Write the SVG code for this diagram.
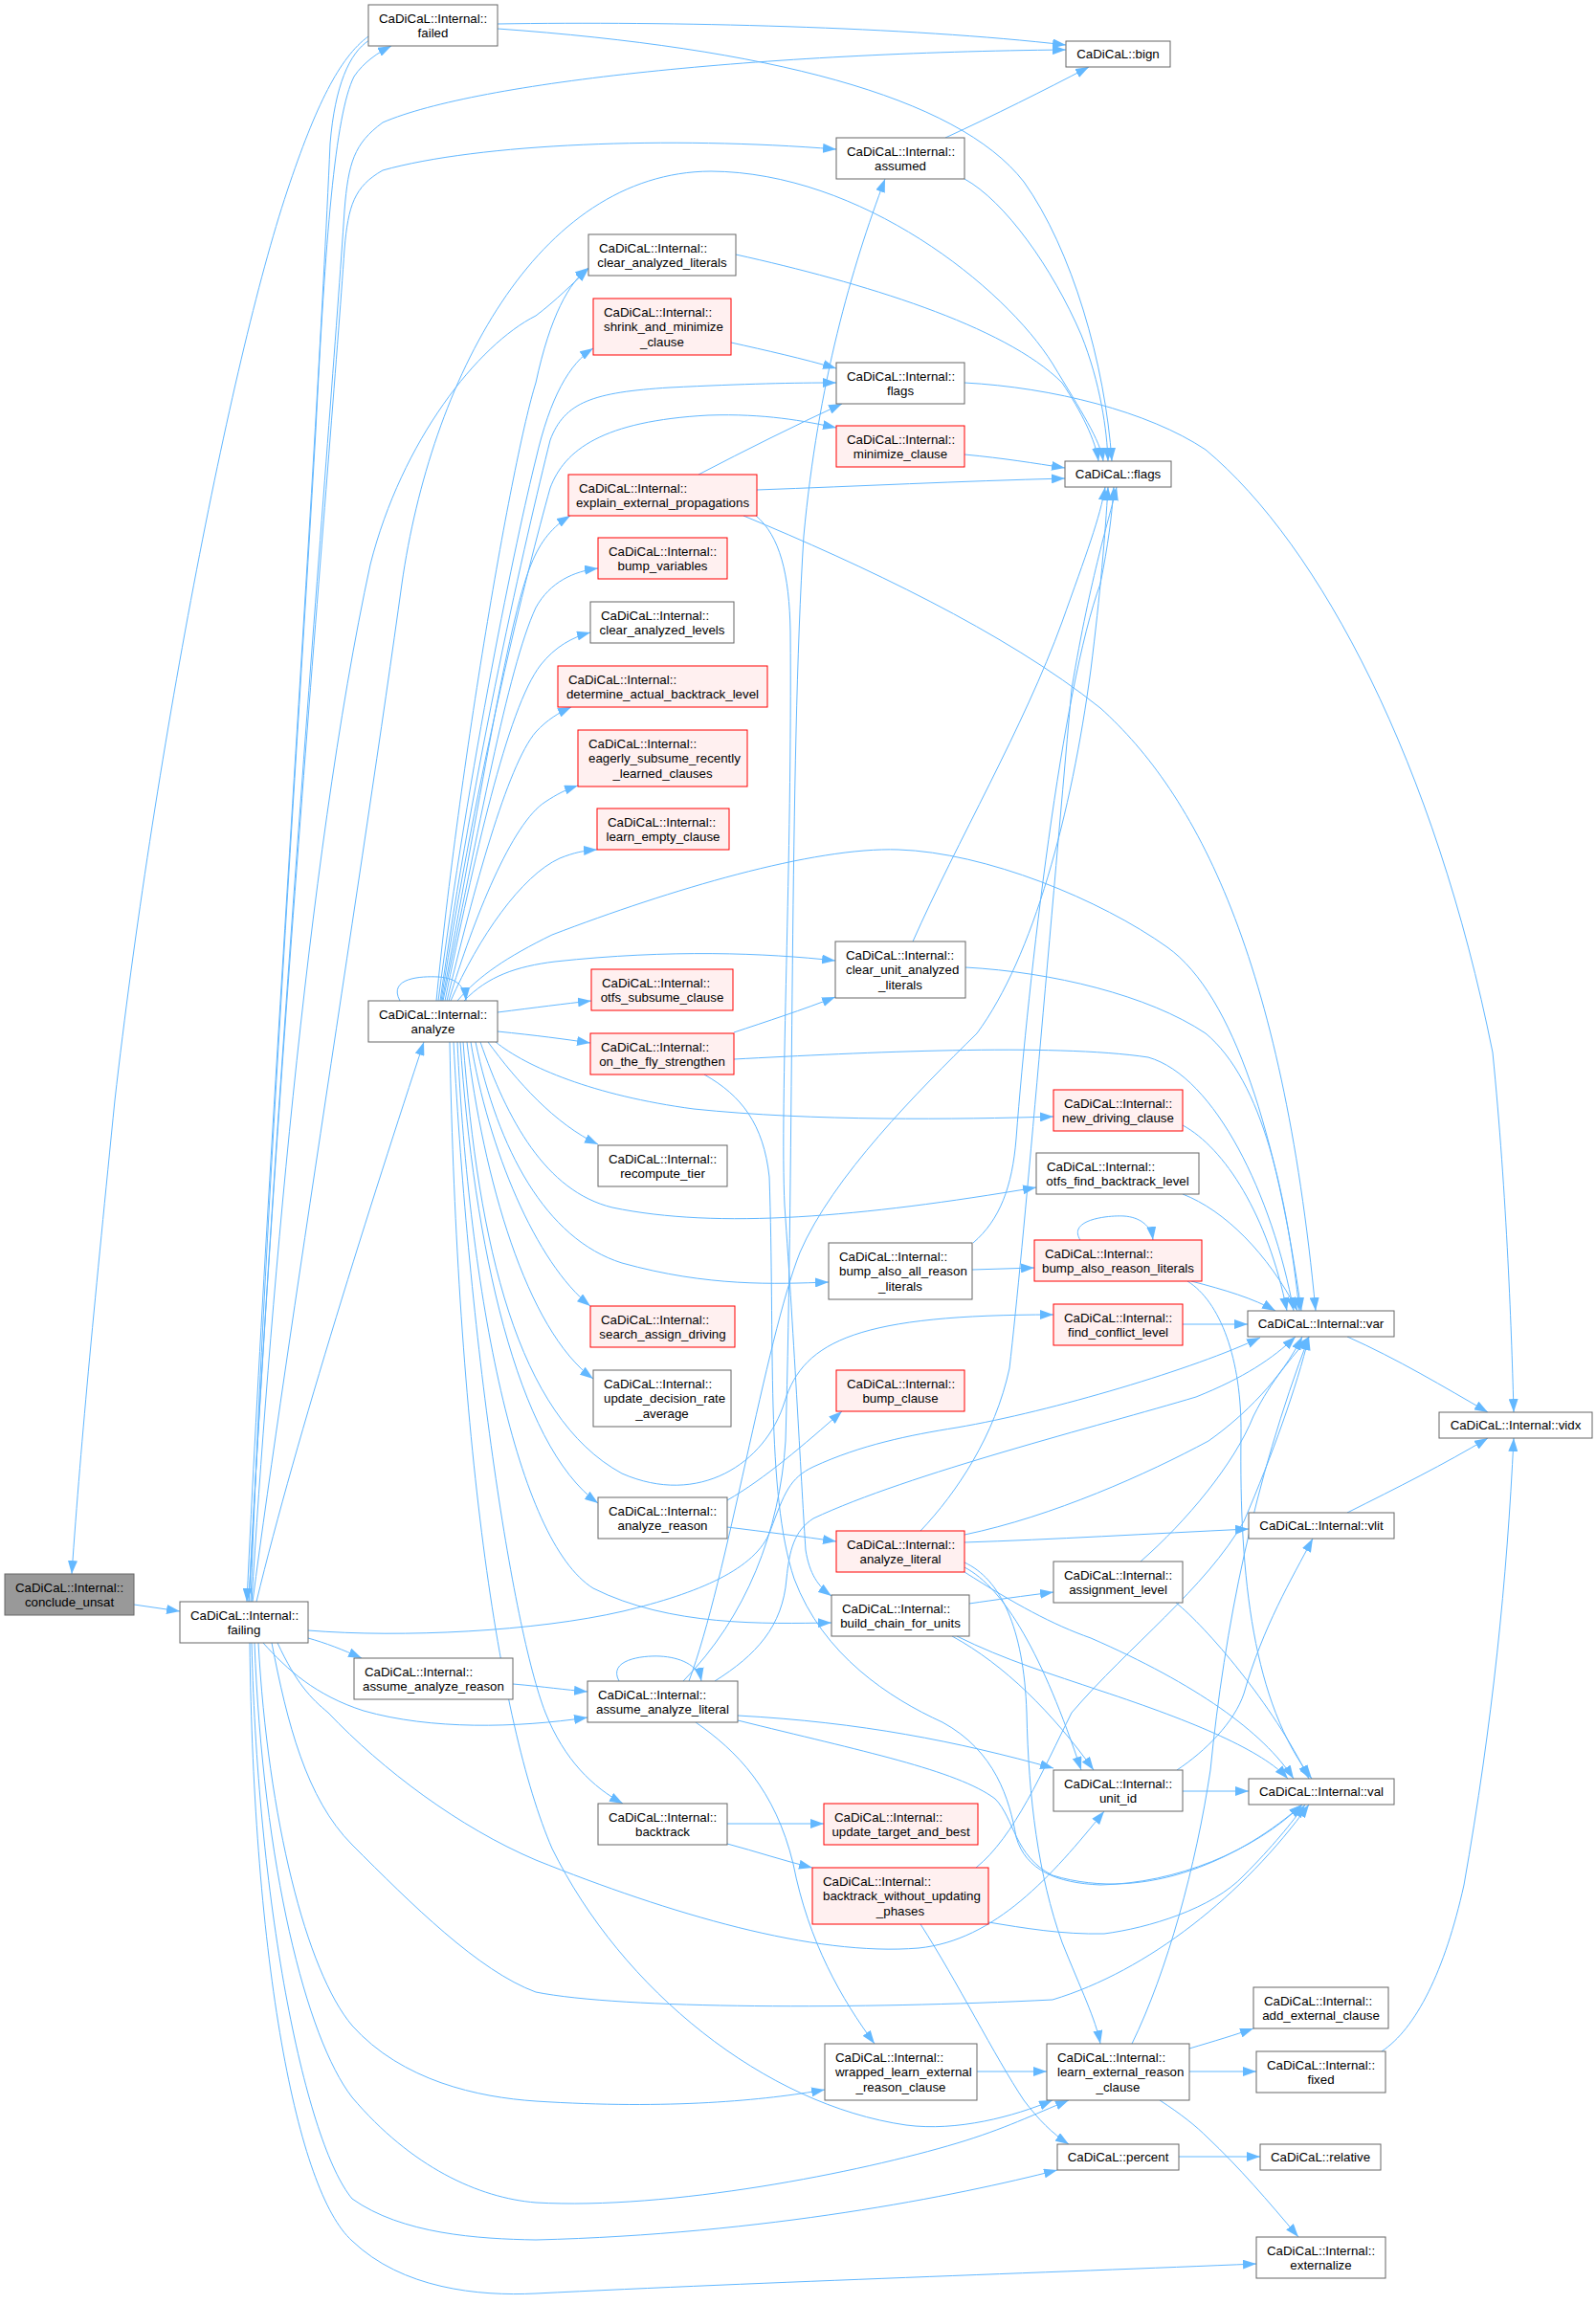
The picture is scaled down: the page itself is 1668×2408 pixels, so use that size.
<svg xmlns="http://www.w3.org/2000/svg" width="1668" height="2408" viewBox="0 0 1668 2408">
<style>
text{font-family:"Liberation Sans",Arial,Helvetica,sans-serif;font-size:13.3px;fill:#000}
.m{text-anchor:middle}
.n rect{fill:#fff;stroke:#666;stroke-width:1}
.r rect{fill:#fff0f0;stroke:#f00;stroke-width:1}
.root rect{fill:#999;stroke:#666;stroke-width:1}
#edges path{fill:none;stroke:#63b8ff;stroke-width:1;marker-end:url(#a)}
</style>
<defs>
<marker id="a" viewBox="0 0 14 10" refX="14" refY="5" markerWidth="14" markerHeight="10" markerUnits="userSpaceOnUse" orient="auto"><path d="M0,0 L14,5 L0,10 z" fill="#63b8ff"/></marker>
</defs>
<rect width="1668" height="2408" fill="#fff"/>
<g id="edges">
<path d="M140,1677 L188,1684"/>
<path d="M385,38 C355,60 330,110 300,200 C240,380 160,800 120,1150 C100,1350 85,1500 75,1645"/>
<path d="M262,1674 C275,1300 310,800 330,450 C340,250 350,120 370,80 C380,65 395,55 409,48"/>
<path d="M386,42 C365,55 350,90 345,150 C330,500 280,1200 258,1674"/>
<path d="M260,1674 C290,1100 345,450 360,220 C364,170 370,150 400,128 C500,85 800,55 1114,52"/>
<path d="M260,1674 C290,1100 345,480 360,260 C364,215 370,195 400,178 C500,150 700,142 874,156"/>
<path d="M264,1674 C300,1400 380,900 420,610 C450,400 560,180 743,179 C900,180 1050,300 1100,380 C1130,430 1150,460 1153,482"/>
<path d="M263,1674 C280,1400 320,900 387,590 C420,460 500,360 560,330 C580,315 600,295 615,281"/>
<path d="M268,1674 C310,1500 390,1250 443,1089"/>
<path d="M322,1704 C420,1712 560,1705 651,1684 C730,1665 790,1640 805,1600 C820,1560 825,1545 850,1533 C900,1510 950,1500 1000,1492 C1100,1475 1250,1430 1317,1398"/>
<path d="M322,1712 C340,1717 358,1724 378,1733"/>
<path d="M275,1717 C300,1745 330,1772 380,1788 C450,1808 540,1806 614,1795"/>
<path d="M290,1717 C310,1760 325,1775 343,1790 C400,1850 480,1910 560,1944 C700,2000 850,2045 960,2036 C1040,2028 1100,1960 1154,1893"/>
<path d="M284,1717 C300,1800 320,1880 368,1928 C430,1990 500,2060 560,2082 C650,2100 900,2100 1100,2090 C1200,2060 1300,1980 1368,1886"/>
<path d="M270,1717 C280,1900 320,2060 368,2117 C420,2175 500,2192 560,2196 C700,2205 800,2195 862,2184"/>
<path d="M266,1717 C275,1950 320,2130 368,2192 C430,2265 500,2297 560,2302 C700,2310 900,2270 1000,2240 C1050,2225 1080,2210 1117,2195"/>
<path d="M263,1717 C270,2000 320,2240 368,2298 C420,2335 500,2340 560,2341 C800,2335 1000,2295 1105,2268"/>
<path d="M261,1717 C265,2050 310,2290 368,2342 C420,2392 500,2400 560,2397 C800,2385 1100,2375 1313,2366"/>
<path d="M520,25 C700,22 950,28 1114,47"/>
<path d="M520,30 C800,50 1000,100 1070,190 C1120,260 1155,380 1162,482"/>
<path d="M988,144 C1040,120 1090,95 1138,70"/>
<path d="M1008,187 C1050,210 1100,280 1130,350 C1150,400 1157,450 1158,482"/>
<path d="M769,266 C900,295 1050,340 1110,400 C1130,430 1145,460 1148,482"/>
<path d="M764,358 C800,366 840,375 874,385"/>
<path d="M1008,475 C1050,479 1080,484 1113,489"/>
<path d="M791,512 C900,508 1000,503 1113,500"/>
<path d="M730,496 C780,470 830,445 880,422"/>
<path d="M777,539 C900,590 1050,660 1150,740 C1250,830 1340,1000 1375,1370"/>
<path d="M790,539 C815,560 825,600 826,660 C828,900 815,1150 820,1260 C830,1400 838,1560 842,1620 C846,1645 855,1658 869,1668"/>
<path d="M456,1046 C480,800 535,480 560,400 C575,330 595,295 615,280"/>
<path d="M458,1046 C490,800 540,560 560,480 C575,415 595,380 620,364"/>
<path d="M460,1046 C495,800 550,560 575,460 C590,420 620,410 700,405 C780,401 830,400 874,400"/>
<path d="M461,1046 C500,800 550,600 575,510 C590,470 630,440 740,434 C800,432 840,440 874,447"/>
<path d="M462,1046 C500,850 530,650 555,590 C565,565 578,550 596,539"/>
<path d="M463,1046 C500,870 530,700 560,635 C575,608 600,597 625,594"/>
<path d="M465,1046 C495,900 530,740 565,695 C580,676 598,666 617,661"/>
<path d="M467,1046 C495,930 530,800 560,765 C572,752 584,745 597,739"/>
<path d="M469,1046 C495,960 535,860 570,838 C582,830 592,825 604,821"/>
<path d="M471,1046 C500,980 545,915 585,897 C600,891 610,889 624,888"/>
<path d="M478,1046 C500,1020 530,1000 577,977 C700,930 850,885 939,888 C1030,891 1150,940 1220,990 C1290,1040 1335,1190 1360,1370"/>
<path d="M485,1046 C510,1020 540,1010 580,1005 C700,992 800,996 873,1004"/>
<path d="M520,1058 C560,1053 590,1049 618,1046"/>
<path d="M520,1078 C560,1082 590,1086 617,1090"/>
<path d="M518,1089 C550,1115 620,1145 725,1159 C850,1172 1000,1170 1101,1167"/>
<path d="M510,1089 C540,1130 580,1175 625,1196"/>
<path d="M502,1089 C530,1170 570,1245 640,1262 C750,1285 900,1272 1083,1241"/>
<path d="M497,1089 C520,1200 570,1295 650,1320 C740,1345 810,1342 866,1340"/>
<path d="M492,1089 C510,1200 560,1320 617,1365"/>
<path d="M488,1089 C505,1230 550,1390 620,1441"/>
<path d="M484,1089 C500,1300 540,1480 650,1540 C730,1575 800,1530 820,1465 C840,1400 900,1374 1101,1374"/>
<path d="M481,1089 C495,1300 540,1510 625,1571"/>
<path d="M478,1089 C490,1350 540,1610 620,1660 C700,1700 800,1697 869,1696"/>
<path d="M474,1089 C490,1400 535,1700 570,1790 C590,1840 620,1868 651,1885"/>
<path d="M470,1089 C478,1500 520,1800 577,1932 C650,2080 800,2200 947,2221 C1000,2228 1060,2212 1100,2195"/>
<path d="M418,1046 C405,1022 440,1020 458,1021 C476,1022 486,1030 487,1046"/>
<path d="M954,984 C1000,880 1070,760 1110,650 C1135,580 1150,540 1155,509"/>
<path d="M1009,1011 C1100,1016 1200,1040 1260,1080 C1320,1130 1345,1250 1358,1370"/>
<path d="M767,1079 C800,1068 840,1055 873,1042"/>
<path d="M767,1107 C900,1100 1100,1090 1200,1105 C1270,1125 1330,1250 1352,1370"/>
<path d="M736,1123 C775,1145 798,1175 804,1230 C810,1400 800,1560 830,1650 C860,1730 930,1775 985,1800 C1040,1830 1055,1880 1062,1920 C1072,1955 1105,1968 1150,1970 C1230,1968 1310,1935 1361,1886"/>
<path d="M1236,1176 C1280,1200 1325,1270 1345,1370"/>
<path d="M1236,1248 C1280,1265 1325,1310 1356,1370"/>
<path d="M1016,1327 L1081,1325"/>
<path d="M1017,1299 C1045,1275 1058,1240 1062,1190 C1075,1020 1110,720 1150,610 C1158,570 1162,540 1164,509"/>
<path d="M1129,1296 C1115,1274 1160,1270 1175,1271 C1190,1272 1203,1280 1205,1296"/>
<path d="M1245,1339 C1280,1348 1310,1357 1333,1370"/>
<path d="M1241,1339 C1275,1360 1298,1420 1297,1500 C1295,1650 1310,1780 1371,1859"/>
<path d="M1236,1384 L1304,1384"/>
<path d="M760,1568 C800,1545 840,1510 880,1475"/>
<path d="M760,1596 C800,1601 840,1606 874,1611"/>
<path d="M962,1600 C1000,1560 1040,1500 1055,1430 C1070,1300 1095,1000 1120,720 C1140,600 1160,540 1167,509"/>
<path d="M1008,1604 C1100,1585 1200,1540 1263,1506 C1300,1480 1340,1440 1361,1397"/>
<path d="M1008,1612 C1100,1609 1200,1603 1305,1598"/>
<path d="M1008,1638 C1050,1660 1090,1730 1130,1850"/>
<path d="M1008,1633 C1045,1650 1070,1700 1073,1790 C1075,1880 1085,1960 1110,2030 C1130,2080 1145,2110 1150,2136"/>
<path d="M1008,1643 C1060,1676 1100,1698 1140,1712 C1250,1760 1320,1810 1352,1859"/>
<path d="M1192,1632 C1240,1590 1290,1530 1310,1480 C1330,1440 1350,1420 1368,1397"/>
<path d="M1229,1675 C1260,1700 1330,1780 1368,1859"/>
<path d="M1013,1676 C1040,1672 1070,1668 1101,1664"/>
<path d="M995,1710 C1050,1740 1100,1790 1143,1850"/>
<path d="M1000,1710 C1050,1735 1100,1750 1150,1767 C1250,1800 1320,1830 1346,1859"/>
<path d="M536,1760 C570,1763 590,1766 614,1768"/>
<path d="M647,1757 C635,1735 670,1730 690,1731 C710,1732 730,1740 733,1757"/>
<path d="M714,1757 C780,1690 815,1600 821,1506 C830,1200 825,800 840,560 C855,400 890,280 925,187"/>
<path d="M720,1757 C760,1650 800,1400 836,1309 C870,1230 960,1140 1021,1080 C1080,1000 1120,850 1140,700 C1150,620 1155,560 1158,509"/>
<path d="M747,1757 C790,1730 818,1700 822,1650 C825,1620 830,1600 850,1587 C950,1540 1150,1490 1250,1460 C1300,1440 1330,1420 1354,1397"/>
<path d="M771,1793 C900,1800 1000,1820 1101,1848"/>
<path d="M771,1798 C900,1830 1000,1850 1040,1880 C1060,1900 1060,1940 1100,1960 C1200,1990 1300,1940 1361,1886"/>
<path d="M727,1800 C770,1830 810,1870 829,1948 C845,2030 880,2090 914,2136"/>
<path d="M1230,1850 C1260,1830 1290,1800 1300,1770 C1320,1700 1350,1650 1372,1608"/>
<path d="M1236,1872 L1305,1872"/>
<path d="M760,1906 L861,1906"/>
<path d="M760,1927 C790,1935 820,1945 849,1952"/>
<path d="M1020,1952 C1060,1920 1090,1850 1120,1790 C1180,1720 1260,1660 1300,1590 C1330,1520 1355,1450 1368,1397"/>
<path d="M1033,2009 C1070,2015 1110,2022 1154,2021 C1200,2015 1267,1995 1300,1960 C1330,1930 1350,1905 1364,1886"/>
<path d="M962,2011 C1000,2070 1040,2150 1070,2195 C1085,2215 1100,2230 1117,2241"/>
<path d="M1021,2165 L1094,2165"/>
<path d="M1243,2141 C1270,2133 1290,2127 1310,2120"/>
<path d="M1243,2165 L1313,2165"/>
<path d="M1212,2195 C1235,2210 1250,2222 1262,2234 C1295,2265 1325,2300 1357,2338"/>
<path d="M1183,2136 C1220,2060 1250,1950 1265,1850 C1280,1700 1310,1550 1368,1397"/>
<path d="M1232,2254 L1317,2254"/>
<path d="M1444,2144 C1480,2120 1510,2060 1530,1970 C1560,1800 1575,1650 1582,1503"/>
<path d="M1408,1397 C1460,1420 1510,1450 1555,1476"/>
<path d="M1408,1581 C1460,1555 1510,1530 1555,1503"/>
<path d="M1008,400 C1100,405 1200,430 1260,470 C1380,570 1500,800 1560,1100 C1575,1250 1580,1400 1582,1476"/>
</g>
<g id="conclude_unsat" class="root"><rect x="5" y="1645" width="135" height="43"/><text x="16" y="1663.5">CaDiCaL::Internal::</text><text class="m" x="72.5" y="1679">conclude_unsat</text></g>
<g id="failing" class="n"><rect x="188" y="1674" width="134" height="43"/><text x="199" y="1692.5">CaDiCaL::Internal::</text><text class="m" x="255" y="1708">failing</text></g>
<g id="failed" class="n"><rect x="385" y="5" width="135" height="43"/><text x="396" y="23.5">CaDiCaL::Internal::</text><text class="m" x="452.5" y="39">failed</text></g>
<g id="bign" class="n"><rect x="1114" y="43" width="109" height="27"/><text class="m" x="1168.5" y="61">CaDiCaL::bign</text></g>
<g id="assumed" class="n"><rect x="874" y="144" width="134" height="43"/><text x="885" y="162.5">CaDiCaL::Internal::</text><text class="m" x="941" y="178">assumed</text></g>
<g id="analyze" class="n"><rect x="385" y="1046" width="135" height="43"/><text x="396" y="1064.5">CaDiCaL::Internal::</text><text class="m" x="452.5" y="1080">analyze</text></g>
<g id="clear_analyzed_literals" class="n"><rect x="615" y="245" width="154" height="43"/><text x="626" y="263.5">CaDiCaL::Internal::</text><text class="m" x="692" y="279">clear_analyzed_literals</text></g>
<g id="shrink_and_minimize_clause" class="r"><rect x="620" y="312" width="144" height="59"/><text x="631" y="330.5">CaDiCaL::Internal::</text><text x="631" y="346">shrink_and_minimize</text><text class="m" x="692" y="361.5">_clause</text></g>
<g id="internal_flags" class="n"><rect x="874" y="379" width="134" height="43"/><text x="885" y="397.5">CaDiCaL::Internal::</text><text class="m" x="941" y="413">flags</text></g>
<g id="minimize_clause" class="r"><rect x="874" y="445" width="134" height="43"/><text x="885" y="463.5">CaDiCaL::Internal::</text><text class="m" x="941" y="479">minimize_clause</text></g>
<g id="explain_external_propagations" class="r"><rect x="594" y="496" width="197" height="43"/><text x="605" y="514.5">CaDiCaL::Internal::</text><text class="m" x="692.5" y="530">explain_external_propagations</text></g>
<g id="flags" class="n"><rect x="1113" y="482" width="111" height="27"/><text class="m" x="1168.5" y="500">CaDiCaL::flags</text></g>
<g id="bump_variables" class="r"><rect x="625" y="562" width="135" height="43"/><text x="636" y="580.5">CaDiCaL::Internal::</text><text class="m" x="692.5" y="596">bump_variables</text></g>
<g id="clear_analyzed_levels" class="n"><rect x="617" y="629" width="150" height="43"/><text x="628" y="647.5">CaDiCaL::Internal::</text><text class="m" x="692" y="663">clear_analyzed_levels</text></g>
<g id="determine_actual_backtrack_level" class="r"><rect x="583" y="696" width="219" height="43"/><text x="594" y="714.5">CaDiCaL::Internal::</text><text class="m" x="692.5" y="730">determine_actual_backtrack_level</text></g>
<g id="eagerly_subsume_recently_learned_clauses" class="r"><rect x="604" y="763" width="177" height="59"/><text x="615" y="781.5">CaDiCaL::Internal::</text><text x="615" y="797">eagerly_subsume_recently</text><text class="m" x="692.5" y="812.5">_learned_clauses</text></g>
<g id="learn_empty_clause" class="r"><rect x="624" y="845" width="138" height="43"/><text x="635" y="863.5">CaDiCaL::Internal::</text><text class="m" x="693" y="879">learn_empty_clause</text></g>
<g id="clear_unit_analyzed_literals" class="n"><rect x="873" y="984" width="136" height="59"/><text x="884" y="1002.5">CaDiCaL::Internal::</text><text x="884" y="1018">clear_unit_analyzed</text><text class="m" x="941" y="1033.5">_literals</text></g>
<g id="otfs_subsume_clause" class="r"><rect x="618" y="1013" width="148" height="43"/><text x="629" y="1031.5">CaDiCaL::Internal::</text><text class="m" x="692" y="1047">otfs_subsume_clause</text></g>
<g id="on_the_fly_strengthen" class="r"><rect x="617" y="1080" width="150" height="43"/><text x="628" y="1098.5">CaDiCaL::Internal::</text><text class="m" x="692" y="1114">on_the_fly_strengthen</text></g>
<g id="new_driving_clause" class="r"><rect x="1101" y="1139" width="135" height="43"/><text x="1112" y="1157.5">CaDiCaL::Internal::</text><text class="m" x="1168.5" y="1173">new_driving_clause</text></g>
<g id="recompute_tier" class="n"><rect x="625" y="1197" width="135" height="43"/><text x="636" y="1215.5">CaDiCaL::Internal::</text><text class="m" x="692.5" y="1231">recompute_tier</text></g>
<g id="otfs_find_backtrack_level" class="n"><rect x="1083" y="1205" width="170" height="43"/><text x="1094" y="1223.5">CaDiCaL::Internal::</text><text class="m" x="1168" y="1239">otfs_find_backtrack_level</text></g>
<g id="bump_also_all_reason_literals" class="n"><rect x="866" y="1299" width="150" height="59"/><text x="877" y="1317.5">CaDiCaL::Internal::</text><text x="877" y="1333">bump_also_all_reason</text><text class="m" x="941" y="1348.5">_literals</text></g>
<g id="bump_also_reason_literals" class="r"><rect x="1081" y="1296" width="175" height="43"/><text x="1092" y="1314.5">CaDiCaL::Internal::</text><text class="m" x="1168.5" y="1330">bump_also_reason_literals</text></g>
<g id="search_assign_driving" class="r"><rect x="617" y="1365" width="151" height="43"/><text x="628" y="1383.5">CaDiCaL::Internal::</text><text class="m" x="692.5" y="1399">search_assign_driving</text></g>
<g id="find_conflict_level" class="r"><rect x="1101" y="1363" width="135" height="43"/><text x="1112" y="1381.5">CaDiCaL::Internal::</text><text class="m" x="1168.5" y="1397">find_conflict_level</text></g>
<g id="var" class="n"><rect x="1304" y="1370" width="153" height="27"/><text class="m" x="1380.5" y="1388">CaDiCaL::Internal::var</text></g>
<g id="update_decision_rate_average" class="n"><rect x="620" y="1432" width="144" height="59"/><text x="631" y="1450.5">CaDiCaL::Internal::</text><text x="631" y="1466">update_decision_rate</text><text class="m" x="692" y="1481.5">_average</text></g>
<g id="bump_clause" class="r"><rect x="874" y="1432" width="134" height="43"/><text x="885" y="1450.5">CaDiCaL::Internal::</text><text class="m" x="941" y="1466">bump_clause</text></g>
<g id="vidx" class="n"><rect x="1504" y="1476" width="160" height="27"/><text class="m" x="1584" y="1494">CaDiCaL::Internal::vidx</text></g>
<g id="analyze_reason" class="n"><rect x="625" y="1565" width="135" height="43"/><text x="636" y="1583.5">CaDiCaL::Internal::</text><text class="m" x="692.5" y="1599">analyze_reason</text></g>
<g id="analyze_literal" class="r"><rect x="874" y="1600" width="134" height="43"/><text x="885" y="1618.5">CaDiCaL::Internal::</text><text class="m" x="941" y="1634">analyze_literal</text></g>
<g id="vlit" class="n"><rect x="1305" y="1581" width="152" height="27"/><text class="m" x="1381" y="1599">CaDiCaL::Internal::vlit</text></g>
<g id="assignment_level" class="n"><rect x="1101" y="1632" width="135" height="43"/><text x="1112" y="1650.5">CaDiCaL::Internal::</text><text class="m" x="1168.5" y="1666">assignment_level</text></g>
<g id="build_chain_for_units" class="n"><rect x="869" y="1667" width="144" height="43"/><text x="880" y="1685.5">CaDiCaL::Internal::</text><text class="m" x="941" y="1701">build_chain_for_units</text></g>
<g id="assume_analyze_reason" class="n"><rect x="370" y="1733" width="166" height="43"/><text x="381" y="1751.5">CaDiCaL::Internal::</text><text class="m" x="453" y="1767">assume_analyze_reason</text></g>
<g id="assume_analyze_literal" class="n"><rect x="614" y="1757" width="157" height="43"/><text x="625" y="1775.5">CaDiCaL::Internal::</text><text class="m" x="692.5" y="1791">assume_analyze_literal</text></g>
<g id="unit_id" class="n"><rect x="1101" y="1850" width="135" height="43"/><text x="1112" y="1868.5">CaDiCaL::Internal::</text><text class="m" x="1168.5" y="1884">unit_id</text></g>
<g id="val" class="n"><rect x="1305" y="1859" width="152" height="27"/><text class="m" x="1381" y="1877">CaDiCaL::Internal::val</text></g>
<g id="backtrack" class="n"><rect x="625" y="1885" width="135" height="43"/><text x="636" y="1903.5">CaDiCaL::Internal::</text><text class="m" x="692.5" y="1919">backtrack</text></g>
<g id="update_target_and_best" class="r"><rect x="861" y="1885" width="161" height="43"/><text x="872" y="1903.5">CaDiCaL::Internal::</text><text class="m" x="941.5" y="1919">update_target_and_best</text></g>
<g id="backtrack_without_updating_phases" class="r"><rect x="849" y="1952" width="184" height="59"/><text x="860" y="1970.5">CaDiCaL::Internal::</text><text x="860" y="1986">backtrack_without_updating</text><text class="m" x="941" y="2001.5">_phases</text></g>
<g id="add_external_clause" class="n"><rect x="1310" y="2077" width="141" height="43"/><text x="1321" y="2095.5">CaDiCaL::Internal::</text><text class="m" x="1380.5" y="2111">add_external_clause</text></g>
<g id="wrapped_learn_external_reason_clause" class="n"><rect x="862" y="2136" width="159" height="59"/><text x="873" y="2154.5">CaDiCaL::Internal::</text><text x="873" y="2170">wrapped_learn_external</text><text class="m" x="941.5" y="2185.5">_reason_clause</text></g>
<g id="learn_external_reason_clause" class="n"><rect x="1094" y="2136" width="149" height="59"/><text x="1105" y="2154.5">CaDiCaL::Internal::</text><text x="1105" y="2170">learn_external_reason</text><text class="m" x="1168.5" y="2185.5">_clause</text></g>
<g id="fixed" class="n"><rect x="1313" y="2144" width="135" height="43"/><text x="1324" y="2162.5">CaDiCaL::Internal::</text><text class="m" x="1380.5" y="2178">fixed</text></g>
<g id="percent" class="n"><rect x="1105" y="2241" width="127" height="27"/><text class="m" x="1168.5" y="2259">CaDiCaL::percent</text></g>
<g id="relative" class="n"><rect x="1317" y="2241" width="126" height="27"/><text class="m" x="1380" y="2259">CaDiCaL::relative</text></g>
<g id="externalize" class="n"><rect x="1313" y="2338" width="135" height="43"/><text x="1324" y="2356.5">CaDiCaL::Internal::</text><text class="m" x="1380.5" y="2372">externalize</text></g>
</svg>
